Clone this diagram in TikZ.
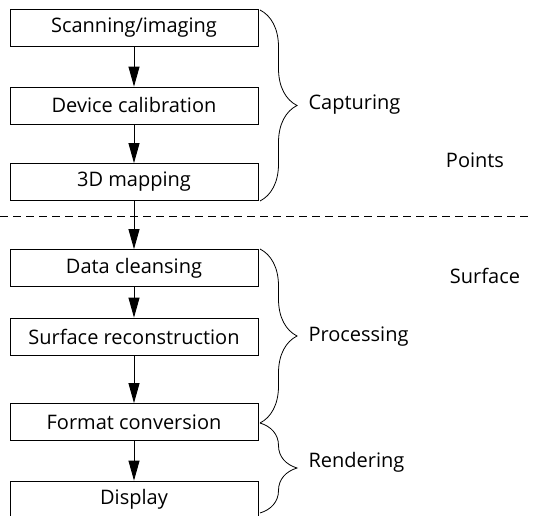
\documentclass[tikz,border=0pt]{standalone}
\usepackage{fontspec}
\setmainfont{Open Sans}
\usetikzlibrary{arrows.meta,decorations.pathreplacing}

\begin{document}
\begin{tikzpicture}[
			x=1pt, y=1pt,
			every node/.style={font=\fontsize{20}{23}\selectfont},
			stage/.style={draw, line width=0.8pt, minimum width=248pt, minimum height=37pt, inner sep=0pt},
			flow/.style={line width=0.9pt, -{Triangle[length=20pt,width=11pt]}},
			group/.style={decorate, decoration={brace, amplitude=37pt}, line width=0.8pt}
			]
			\useasboundingbox (0,0) rectangle (533,515);
			% pipeline
			\node [stage] (scan) at (134,487) {Scanning/imaging};
			\node [stage] (calib) at (134,409.5) {Device calibration};
			\node [stage] (map) at (134,333) {3D mapping};
			\node [stage] (clean) at (134,247) {Data cleansing};
			\node [stage] (recon) at (134,178.5) {Surface reconstruction};
			\node [stage] (conv) at (134,93) {Format conversion};
			\node [stage, minimum height=36pt] (disp) at (134,16) {Display};
			\draw [flow] (scan) -- (calib);
			\draw [flow] (calib) -- (map);
			\draw [flow] (map) -- (clean);
			\draw [flow] (clean) -- (recon);
			\draw [flow] (recon) -- (conv);
			\draw [flow] (conv) -- (disp);
			% split between points and surface
			\coordinate (splitL) at (0,299);
			\coordinate (splitR) at (533,299);
			\draw [dashed, dash pattern=on 8pt off 5pt, line width=0.7pt] (splitL) -- (splitR);
			% groups
			\coordinate (capT) at (260,505);
			\coordinate (capB) at (260,314);
			\coordinate (proT) at (260,266);
			\coordinate (proB) at (260,92);
			\coordinate (renB) at (260,2);
			\draw [group] (capT) -- (capB);
			\draw [group] (proT) -- (proB);
			\draw [group] (proB) -- (renB);
			\node [anchor=west] (capture) at (305,410) {Capturing};
			\node [anchor=west] (process) at (305,178) {Processing};
			\node [anchor=west] (render) at (305,53) {Rendering};
			\node (points) at (475,355) {Points};
			\node (surface) at (485,239) {Surface};
		\end{tikzpicture}
\end{document}
